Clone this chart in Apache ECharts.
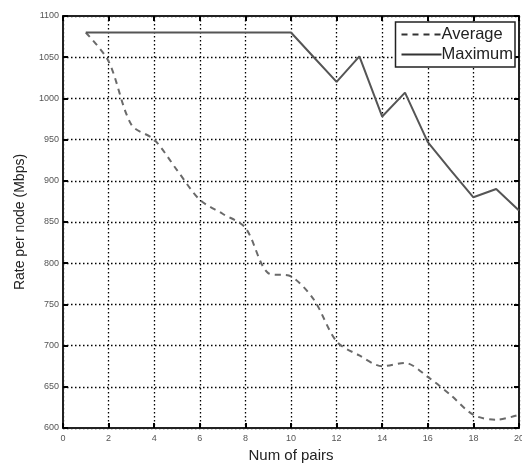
<!DOCTYPE html>
<html>
<head>
<meta charset="utf-8">
<script src="https://cdn.jsdelivr.net/npm/echarts@6/dist/echarts.min.js"></script>
<style>html,body{margin:0;padding:0;background:#fff}#c{width:522px;height:463px}</style>
</head>
<body>
<div id="c"></div>
<script>
const pairs = [1,2,3,4,5,6,7,8,9,10,11,12,13,14,15,16,17,18,19,20];
const average = [1080,1045,968,950,913,877,860,843,788,784,756,705,688,675,679,662,640,616,610,616];
const maximum = [1080,1080,1080,1080,1080,1080,1080,1080,1080,1080,1050,1020,1051,978,1007,947,913,880,890,864];
const xTitle = 'Num of pairs';
const yTitle = 'Rate per node (Mbps)';

const chart = echarts.init(document.getElementById('c'));
const font = 'Liberation Sans, Arial, sans-serif';
const gridDot = {show:true, lineStyle:{color:'#000', type:[1.5,2.5], width:1.3}};
const axisLineStyle = {show:true, onZero:false, lineStyle:{color:'#222', width:2}};
const tickStyle = {show:true, inside:true, length:5, lineStyle:{color:'#000', width:2}};
chart.setOption({
  animation:false,
  grid:{left:63, right:3, top:16, bottom:35, containLabel:false, outerBoundsMode:'none'},
  legend:{
    top:22, right:7, orient:'vertical', itemGap:3, itemWidth:40, itemHeight:12,
    padding:[4,2,4,5], borderColor:'#222', borderWidth:1.5, backgroundColor:'#fff',
    itemStyle:{opacity:0},
    lineStyle:{color:'#333', width:2},
    textStyle:{fontFamily:font, fontSize:16.5, color:'#222', padding:[0,0,0,-5]},
    data:['Average','Maximum']
  },
  xAxis:[{
    type:'value', min:0, max:20, interval:2,
    name:xTitle, nameLocation:'middle', nameGap:19,
    nameTextStyle:{fontFamily:font, fontSize:15, color:'#222'},
    axisLine:axisLineStyle, axisTick:tickStyle,
    axisLabel:{fontFamily:font, fontSize:9, color:'#555', margin:6},
    splitLine:gridDot
  },{
    type:'value', position:'top', min:0, max:20, interval:2,
    axisLine:axisLineStyle, axisTick:tickStyle,
    axisLabel:{show:false}, splitLine:{show:false}
  }],
  yAxis:[{
    type:'value', min:600, max:1100, interval:50,
    name:yTitle, nameLocation:'middle', nameGap:36,
    nameTextStyle:{fontFamily:font, fontSize:14, color:'#222'},
    axisLine:axisLineStyle, axisTick:tickStyle,
    axisLabel:{fontFamily:font, fontSize:9, color:'#555', margin:4, formatter:v=>String(v)},
    splitLine:gridDot
  },{
    type:'value', position:'right', min:600, max:1100, interval:50,
    axisLine:axisLineStyle, axisTick:tickStyle,
    axisLabel:{show:false}, splitLine:{show:false}
  }],
  series:[{
    name:'Average', type:'line', smooth:0.3, symbol:'none',
    data:pairs.map((p,i)=>[p,average[i]]),
    lineStyle:{color:'#6a6a6a', width:2, type:[6,5]},
    itemStyle:{color:'#222'}
  },{
    name:'Maximum', type:'line', symbol:'none',
    data:pairs.map((p,i)=>[p,maximum[i]]),
    lineStyle:{color:'#555', width:2},
    itemStyle:{color:'#222'}
  }]
});
</script>
</body>
</html>
